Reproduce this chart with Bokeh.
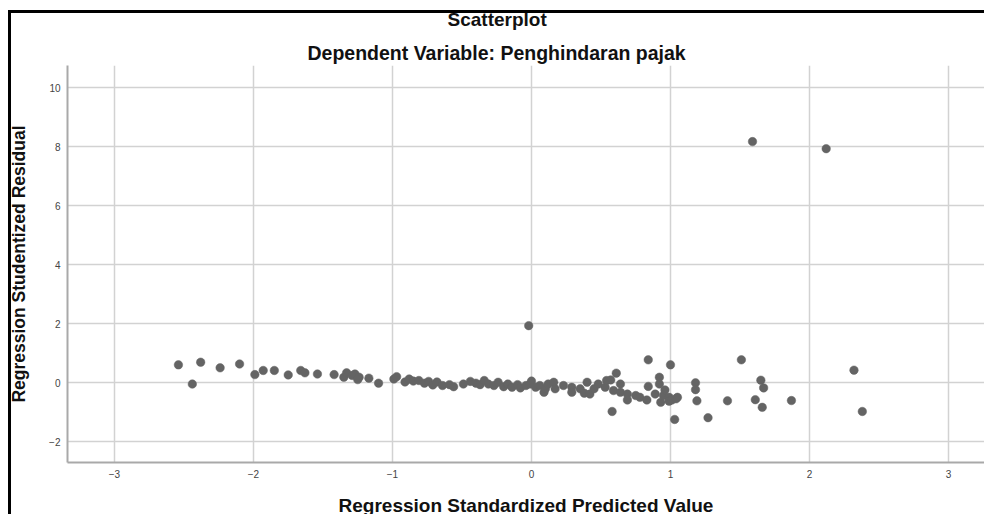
from bokeh.plotting import figure
from bokeh.models import Range1d, FixedTicker, Title
from bokeh.embed import file_html
from bokeh.resources import INLINE

# Data
pred = [-2.54, -2.44, -2.38, -2.24, -2.10, -1.99, -1.93, -1.85, -1.75, -1.66, -1.63, -1.54,
        -1.42, -1.35, -1.33, -1.29, -1.27, -1.25, -1.24, -1.17, -1.10, -0.99, -0.97, -0.91,
        -0.88, -0.85, -0.81, -0.77, -0.74, -0.71, -0.68, -0.64, -0.59, -0.56,
        -0.49, -0.44, -0.40, -0.37, -0.34, -0.31, -0.27, -0.24, -0.20, -0.17, -0.14, -0.10,
        -0.08, -0.04, -0.01, 0.00, 0.03, 0.06, 0.09, 0.10, 0.12, 0.16, 0.17, 0.23, 0.29,
        0.29, 0.35, 0.38, 0.40, 0.42, 0.45, 0.48, 0.53, 0.54,
        0.57, 0.61, 0.64, 0.59, 0.64, 0.69, 0.69, 0.75, 0.78, 0.83, 0.84, 0.84, 0.89, 0.92,
        0.92, 0.93, 0.95, 0.96, 0.99, 0.99, 1.00, 1.01, 1.04, 1.05, 0.58, 1.03, 1.18, 1.18,
        1.19, 1.27, 1.41, 1.51, 1.61, 1.65, 1.67, 1.66, 1.87, 2.32, 2.38,
        -0.02, 1.59, 2.12]
resid = [0.60, -0.05, 0.69, 0.50, 0.63, 0.27, 0.41, 0.41, 0.26, 0.41, 0.33, 0.29,
         0.27, 0.18, 0.33, 0.24, 0.29, 0.10, 0.18, 0.15, -0.02, 0.12, 0.20, 0.02,
         0.12, 0.05, 0.07, -0.02, 0.04, -0.08, 0.02, -0.10, -0.07, -0.14,
         -0.05, 0.04, -0.02, -0.07, 0.07, -0.05, -0.10, 0.01, -0.14, -0.05, -0.16, -0.07,
         -0.18, -0.10, -0.05, 0.05, -0.16, -0.10, -0.33, -0.21, -0.05, 0.01, -0.21, -0.10, -0.16,
         -0.33, -0.21, -0.36, 0.01, -0.39, -0.21, -0.05, -0.16, 0.07,
         0.09, 0.32, -0.05, -0.27, -0.33, -0.39, -0.59, -0.44, -0.50, -0.59, -0.13, 0.77, -0.39, 0.18,
         -0.05, -0.67, -0.44, -0.25, -0.50, -0.63, 0.60, -0.59, -0.55, -0.50, -0.98, -1.25, -0.01, -0.24,
         -0.62, -1.19, -0.62, 0.77, -0.58, 0.08, -0.18, -0.84, -0.61, 0.42, -0.98,
         1.93, 8.17, 7.93]

x_ticks = [-3, -2, -1, 0, 1, 2, 3]
y_ticks = [-2, 0, 2, 4, 6, 8, 10]

title_text = "Scatterplot"
subtitle_text = "Dependent Variable: Penghindaran pajak"
x_label = "Regression Standardized Predicted Value"
y_label = "Regression Studentized Residual"

FONT = "Liberation Sans"

p = figure(width=984, height=522,
           x_range=Range1d(-3.338, 3.259), y_range=Range1d(-2.71, 10.75),
           output_backend="svg", toolbar_location=None,
           min_border_left=67, min_border_right=0, min_border_top=69, min_border_bottom=56)
p.outline_line_color = None
p.background_fill_color = "white"
p.border_fill_color = None
# black frame lines on the left and top edges of the picture (drawn under the canvas)
p.styles = {
    "margin-top": "-4px",
    "margin-bottom": "-4px",
    "background-color": "white",
    "box-shadow": ("inset 8px 0 0 0 white, inset 0 14px 0 0 white, "
                   "inset 11px 0 0 0 black, inset 0 17px 0 0 black"),
}

# titles (first added sits closest to the plot)
sub = Title(text=subtitle_text, align="left", text_font=FONT, text_font_size="19.5px",
            text_font_style="bold", text_color="#111111", standoff=4, offset=240)
p.add_layout(sub, "above")
tit = Title(text=title_text, align="left", text_font=FONT, text_font_size="19px",
            text_font_style="bold", text_color="#111111", standoff=15, offset=380)
p.add_layout(tit, "above")

p.scatter(pred, resid, size=8.5, fill_color="#646464", line_color="#646464", line_width=0.5)

for ax in (p.xaxis[0], p.yaxis[0]):
    ax.axis_line_color = "#a9a9a9"
    ax.axis_line_width = 2
    ax.major_tick_line_color = None
    ax.minor_tick_line_color = None
    ax.major_tick_out = 0
    ax.major_tick_in = 0
    ax.major_label_text_font = FONT
    ax.major_label_text_font_size = "10px"
    ax.major_label_text_color = "#444444"
    ax.axis_label_text_font = FONT
    ax.axis_label_text_font_style = "bold"
    ax.axis_label_text_color = "#111111"

p.xaxis.axis_label_text_font_size = "19px"
p.yaxis.axis_label_text_font_size = "17.5px"
p.xaxis.ticker = FixedTicker(ticks=x_ticks)
p.yaxis.ticker = FixedTicker(ticks=y_ticks)
p.xaxis.axis_label = x_label
p.yaxis.axis_label = y_label
p.xaxis.major_label_standoff = 7
p.xaxis.axis_label_standoff = 14
p.yaxis.major_label_standoff = 7
p.yaxis.axis_label_standoff = 17
p.yaxis.major_label_orientation = "horizontal"

p.xgrid.ticker = FixedTicker(ticks=x_ticks)
p.ygrid.ticker = FixedTicker(ticks=y_ticks)
for g in (p.xgrid[0], p.ygrid[0]):
    g.grid_line_color = "#d2d2d2"
    g.grid_line_width = 1.5

open("out.html", "w").write(file_html(p, INLINE))
